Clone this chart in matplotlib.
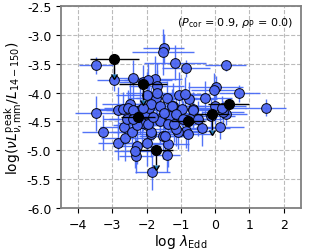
import numpy as np
import matplotlib
matplotlib.use("Agg")
import matplotlib.pyplot as plt

# puntos detectados (azul): log lambda_Edd, log(nuL/L14-150) y sus errores
x_det = [-3.48, -2.94, -2.39, -3.48, -2.12, -1.76, -1.95, -1.50, -1.53, -1.18,
         -0.86, 0.31, 0.01, -0.02, 0.70, 1.48, -0.01, 0.33, -0.30, -1.05,
         -0.76, -0.88, -0.66, -1.22, -1.73, -1.42, 0.14, -0.38, -1.83, -1.42,
         -1.37, -0.84, -1.08, -1.52, -3.28, -2.83, -2.63, -2.65, -2.44, -2.27,
         -2.31, -2.34, -2.00, -2.00, -1.86, -2.83, -2.70, -2.49, -2.54, -2.20,
         -2.39, -1.98, -1.92, -1.71, -1.71, -2.00, -1.86, -2.10, -1.61, -1.27,
         -0.98, -0.64, -0.74, -2.00, -1.61, -1.32, -1.13, 0.23, -0.11, -1.61,
         -1.86, -1.37, -1.47, -1.13, -0.79, -2.15, -1.95, 0.19, -2.29, -2.58,
         -1.50, -1.20, -0.50, -0.95, -1.80, -2.40]
y_det = [-3.53, -3.78, -3.74, -4.36, -3.82, -3.77, -3.79, -3.23, -3.29, -3.48,
         -3.58, -3.53, -3.91, -3.96, -4.01, -4.26, -4.24, -4.37, -4.10, -4.05,
         -4.11, -4.03, -4.29, -4.23, -4.09, -4.10, -4.60, -4.62, -5.38, -5.08,
         -4.89, -4.66, -4.68, -4.75, -4.69, -4.87, -4.78, -4.60, -4.68, -4.93,
         -5.10, -5.01, -4.87, -4.57, -4.72, -4.31, -4.29, -4.20, -4.26, -4.31,
         -4.31, -4.37, -4.26, -3.88, -4.00, -4.05, -4.20, -4.26, -4.23, -4.23,
         -4.29, -4.31, -4.46, -4.52, -4.46, -4.40, -4.37, -4.34, -4.40, -4.49,
         -4.69, -4.55, -4.75, -4.63, -4.72, -4.52, -4.55, -4.26, -4.57, -4.45,
         -4.35, -4.55, -4.45, -4.45, -4.42, -4.45]
xerr_det = [0.5, 0.5, 0.6, 0.6, 0.7, 0.8, 0.7, 0.6, 0.9, 0.9,
            0.7, 0.6, 0.8, 0.7, 0.6, 0.6, 0.9, 0.6, 0.8, 0.9,
            0.8, 0.7, 0.8, 0.9, 0.8, 0.9, 0.7, 0.8, 0.5, 0.4,
            0.6, 0.7, 0.8, 0.7, 0.6, 0.6, 0.7, 0.7, 0.6, 0.7,
            0.5, 0.6, 0.8, 0.9, 0.7, 0.7, 0.8, 0.8, 0.7, 0.8,
            0.8, 0.9, 0.8, 0.8, 0.9, 0.9, 0.8, 0.7, 0.8, 0.7,
            0.8, 0.7, 0.7, 0.8, 0.8, 0.9, 0.8, 0.6, 0.7, 0.7,
            0.6, 0.8, 0.7, 0.7, 0.7, 0.7, 0.8, 0.7, 0.7, 0.7,
            0.8, 0.7, 0.7, 0.8, 0.8, 0.7]
yerr_det = [0.15, 0.2, 0.3, 0.3, 0.3, 0.4, 0.3, 0.25, 0.4, 0.3,
            0.15, 0.1, 0.2, 0.3, 0.15, 0.15, 0.3, 0.2, 0.3, 0.4,
            0.3, 0.3, 0.3, 0.4, 0.4, 0.3, 0.2, 0.3, 0.3, 0.3,
            0.4, 0.3, 0.3, 0.4, 0.3, 0.3, 0.4, 0.3, 0.4, 0.3,
            0.3, 0.3, 0.4, 0.4, 0.4, 0.4, 0.3, 0.4, 0.3, 0.4,
            0.3, 0.4, 0.4, 0.4, 0.4, 0.4, 0.3, 0.4, 0.3, 0.3,
            0.3, 0.3, 0.3, 0.4, 0.4, 0.3, 0.3, 0.2, 0.3, 0.4,
            0.3, 0.3, 0.3, 0.3, 0.3, 0.4, 0.3, 0.2, 0.3, 0.3,
            0.3, 0.3, 0.3, 0.3, 0.4, 0.3]

# puntos negros (algunos son límites superiores)
x_neg = [-2.94, -2.12, 0.40, -0.09, -1.73, -0.79, -2.25]
y_neg = [-3.41, -3.85, -4.19, -4.37, -4.99, -4.50, -4.43]
xerr_neg = [0.72, 0.7, 0.6, 0.5, 0.5, 0.5, 0.5]
lim_neg = [True, True, False, True, True, False, False]

texto = r"$(P_{\rm cor}$ = 0.9, $\rho_{\rm P}$ = 0.0)"

azul = "#4f68f2"
fig = plt.figure(figsize=(3.16, 2.53), dpi=100)
ax = fig.add_axes([0.193, 0.174, 0.759, 0.798])

ax.errorbar(x_det, y_det, xerr=xerr_det, yerr=yerr_det, fmt="o", color=azul,
            ecolor="#4a6cf7", elinewidth=1.0, ms=7, mfc=azul, mec="black",
            mew=0.7, alpha=0.95, zorder=2)

for xi, yi, xe, lim in zip(x_neg, y_neg, xerr_neg, lim_neg):
    ax.errorbar(xi, yi, xerr=xe, fmt="o", color="black", ms=7,
                elinewidth=1.0, capsize=0, zorder=3)
    if lim:
        # flecha hacia abajo (límite superior)
        ax.errorbar(xi, yi, yerr=0.27, uplims=True, fmt="none",
                    ecolor="black", elinewidth=1.0, capsize=2.5, zorder=3)

ax.set_xlim(-4.5, 2.5)
ax.set_ylim(-6.0, -2.5)
ax.set_xticks(np.arange(-4, 3, 1))
ax.set_yticks(np.arange(-6.0, -2.4, 0.5))
ax.yaxis.set_major_formatter(matplotlib.ticker.FormatStrFormatter("%.1f"))
ax.tick_params(labelsize=9)
ax.grid(True, linestyle="--", color="#bbbbbb", linewidth=0.8)
ax.set_axisbelow(True)
for s in ax.spines.values():
    s.set_color("#808080")
    s.set_linewidth(1.3)

ax.set_xlabel(r"log $\lambda_{\rm Edd}$", fontsize=10, labelpad=1)
ax.set_ylabel(r"$\log(\nu L^{\rm peak}_{\nu,\rm mm}/L_{14-150})$", fontsize=10,
              labelpad=1)
ax.text(0.97, 0.92, texto, transform=ax.transAxes, ha="right", va="center",
        fontsize=8)

fig.savefig("out.png", dpi=100)
